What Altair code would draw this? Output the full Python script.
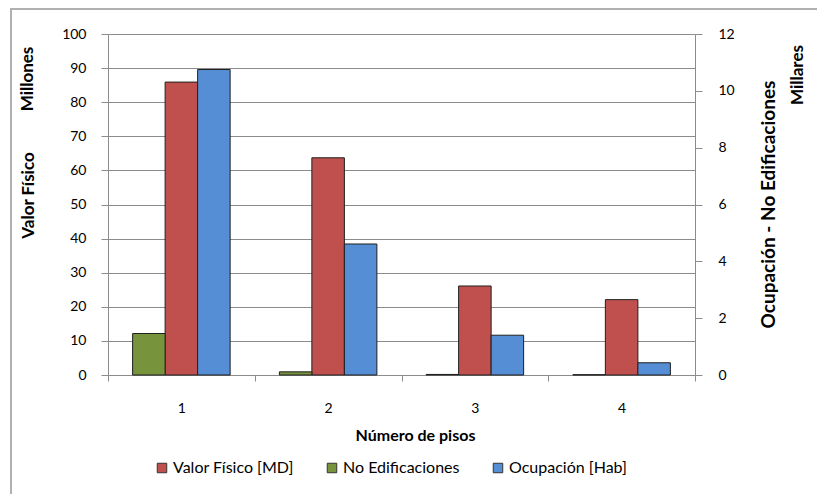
import altair as alt
import pandas as pd

# ---------------- data ----------------
pisos = ["1", "2", "3", "4"]
valor_fisico = [85.9, 63.7, 26.1, 22.1]        # Millones (left axis)
no_edificaciones = [1.46, 0.11, 0.02, 0.01]    # Millares (right axis)
ocupacion = [10.75, 4.61, 1.40, 0.43]          # Millares (right axis)

series_legend = ["Valor Físico [MD]", "No Edificaciones", "Ocupación [Hab]"]
series_order = ["No Edificaciones", "Valor Físico [MD]", "Ocupación [Hab]"]
series_colors = ["#C0504D", "#77933C", "#558ED5"]

left_ticks = list(range(0, 101, 10))
right_ticks = list(range(0, 13, 2))

left_df = pd.DataFrame({"Pisos": pisos, "Serie": series_legend[0], "Valor": valor_fisico})
right_df = pd.concat([
    pd.DataFrame({"Pisos": pisos, "Serie": series_legend[1], "Valor": no_edificaciones}),
    pd.DataFrame({"Pisos": pisos, "Serie": series_legend[2], "Valor": ocupacion}),
], ignore_index=True)

W, H = 587, 341
FONT = "Lato"
GRID = "#8c8c8c"
TITLE_SIZE = 17

x_enc = alt.X(
    "Pisos:N",
    sort=pisos,
    scale=alt.Scale(paddingInner=0, paddingOuter=0),
    axis=alt.Axis(
        title="Número de pisos", labelAngle=0, tickBand="extent",
        tickSize=6, labelPadding=20, titlePadding=12, titleX=307,
        domainColor=GRID, tickColor=GRID, grid=False,
        labelFontSize=14, titleFontSize=16, titleFontWeight="bold",
    ),
)
xoff = alt.XOffset(
    "Serie:N",
    scale=alt.Scale(domain=series_order, paddingInner=0, paddingOuter=0.757),
)
color = alt.Color(
    "Serie:N",
    scale=alt.Scale(domain=series_legend, range=series_colors),
    legend=alt.Legend(
        title=None, orient="none", direction="horizontal",
        legendX=46, legendY=426,
        symbolType="square", symbolSize=90,
        symbolStrokeColor="#333333", symbolStrokeWidth=1,
        labelFont=FONT, labelFontSize=16, labelColor="#000000",
        labelOffset=3, columnPadding=30,
    ),
)

left = alt.Chart(left_df).mark_bar(stroke="#1f1f1f", strokeWidth=1).encode(
    x=x_enc, xOffset=xoff, color=color,
    y=alt.Y(
        "Valor:Q",
        scale=alt.Scale(domain=[0, 100], nice=False, zero=True),
        axis=alt.Axis(
            orient="left", values=left_ticks, title="Valor Físico",
            titleX=-80, titleY=161, titleAngle=270, titleBaseline="middle",
            grid=True, gridColor=GRID, gridOpacity=1,
            domainColor=GRID, tickColor=GRID, tickSize=7, labelPadding=15,
            labelFontSize=14, titleFontSize=TITLE_SIZE, titleFontWeight="bold",
        ),
    ),
)

right = alt.Chart(right_df).mark_bar(stroke="#1f1f1f", strokeWidth=1).encode(
    x=x_enc, xOffset=xoff, color=color,
    y=alt.Y(
        "Valor:Q",
        scale=alt.Scale(domain=[0, 12], nice=False, zero=True),
        axis=alt.Axis(
            orient="right", values=right_ticks, title="Ocupación - No Edificaciones",
            titleX=73, titleY=170, titleAngle=270, titleBaseline="middle",
            grid=False, domainColor=GRID, tickColor=GRID, tickSize=7, labelPadding=16,
            labelFontSize=14, titleFontSize=19, titleFontWeight="bold",
        ),
    ),
)

border = alt.Chart(pd.DataFrame({"t": [""]})).mark_rect(
    fill=None, stroke="#b0b0b0", strokeWidth=2
).encode(
    x=alt.value(-97), x2=alt.value(W + 160), y=alt.value(-25), y2=alt.value(H + 160)
)
millones = alt.Chart(pd.DataFrame({"t": ["Millones"]})).mark_text(
    angle=270, font=FONT, fontSize=TITLE_SIZE, fontWeight="bold", color="#000000",
    align="center", baseline="middle",
).encode(text="t:N", x=alt.value(-80), y=alt.value(45))
millares = alt.Chart(pd.DataFrame({"t": ["Millares"]})).mark_text(
    angle=270, font=FONT, fontSize=TITLE_SIZE, fontWeight="bold", color="#000000",
    align="center", baseline="middle",
).encode(text="t:N", x=alt.value(690), y=alt.value(41))

chart = alt.layer(border, left, right, millones, millares).resolve_scale(
    y="independent"
).properties(
    width=W, height=H,
    autosize=alt.AutoSizeParams(type="none"),
    padding={"left": 100, "top": 26, "right": 122, "bottom": 119},
).configure_axis(
    labelFont=FONT, titleFont=FONT, labelColor="#000000", titleColor="#000000",
).configure_view(stroke=None)

chart.save("out.html", embed_options={"renderer": "svg", "actions": False})
